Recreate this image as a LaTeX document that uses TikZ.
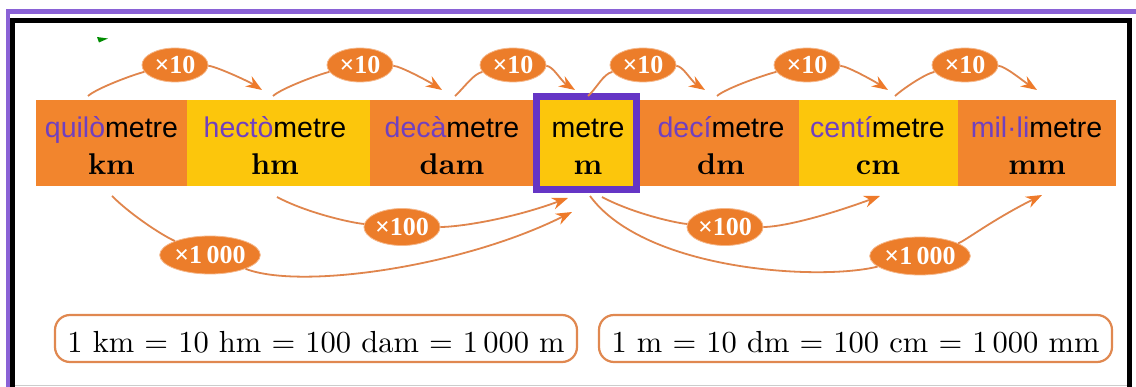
\documentclass[tikz,border=0pt]{standalone}
\usepackage{fontspec}
\newfontfamily\sansf{Liberation Sans}
\newfontfamily\lserif{Liberation Serif}
\newfontfamily\lmten{lmroman10-regular}[Extension=.otf, BoldFont=lmroman10-bold]
\usetikzlibrary{shapes.geometric,arrows.meta,calc}
\definecolor{cellO}{HTML}{F2852D}
\definecolor{cellY}{HTML}{FCC60C}
\definecolor{labO}{HTML}{EC7D2A}
\definecolor{arcC}{HTML}{E0854C}
\definecolor{tipC}{HTML}{EE7A2A}
\definecolor{purT}{HTML}{7040C0}
\definecolor{purF}{HTML}{8A62D6}
\definecolor{purM}{HTML}{6535C5}
\definecolor{boxC}{HTML}{E08850}
\newcommand{\pur}[1]{\textcolor{purT}{#1}}
\begin{document}
\begin{tikzpicture}[x=1pt,y=-1pt,
 cell/.style={rectangle, draw=none, inner sep=0, minimum height=86pt},
 word/.style={anchor=base, inner sep=0, font=\sansf\fontsize{28.5}{30}\selectfont},
 abbr/.style={anchor=base, inner sep=0, font=\lmten\bfseries\fontsize{30}{32}\selectfont},
 lab/.style={ellipse, fill=labO, draw=labO!55!white, line width=0.8pt, inner sep=0, text=white, font=\lserif\bfseries\fontsize{26}{28}\selectfont},
 lab10/.style={lab, minimum width=66pt, minimum height=34pt},
 lab100/.style={lab, minimum width=75pt, minimum height=37pt},
 lab1000/.style={lab, minimum width=90pt, minimum height=38pt},
 arc/.style={draw=arcC, line width=1.8pt},
 arcarrow/.style={arc, -{Stealth[length=16pt,width=12pt,color=tipC]}},
 sumbox/.style={rectangle, rounded corners=15pt, draw=boxC, line width=2.2pt, fill=white, minimum height=47pt, inner sep=0, text height=28pt, text depth=0pt, font=\lmten\fontsize{30.5}{32}\selectfont}
]
\useasboundingbox (0,0) rectangle (1136,387);
\fill[white] (0,0) rectangle (1136,387);
% frame
\fill[purF] (6,9) rectangle (1136,14);
\fill[purF] (6,9) rectangle (10,387);
\draw[black, line width=5pt] (12.5,387) -- (12.5,20.5) -- (1129,20.5) -- (1129,387);
\draw[black!20, line width=1.5pt] (15,385.5) -- (1126.5,385.5);
\fill[green!55!black] (97,37) -- (108,38.5) -- (99,42.5) -- cycle;
% cells
\node[cell, fill=cellO, minimum width=151pt] (c1) at (111.5,143) {};
\node[cell, fill=cellY, minimum width=183pt] (c2) at (278.5,143) {};
\node[cell, fill=cellO, minimum width=170pt] (c3) at (455,143) {};
\node[cell, fill=cellO, minimum width=166pt] (c5) at (716,143) {};
\node[cell, fill=cellY, minimum width=159pt] (c6) at (878.5,143) {};
\node[cell, fill=cellO, minimum width=158pt] (c7) at (1037,143) {};
\node[rectangle, fill=cellY, draw=purM, line width=7pt, minimum width=100pt, minimum height=93pt, inner sep=0] (c4) at (586.5,143) {};
% words
\node[word] (n1) at (111.5,138) {\pur{quilò}metre};
\node[word] (n2) at (275,138) {\pur{hectò}metre};
\node[word] (n3) at (452,138) {\pur{decà}metre};
\node[word] (n4) at (588,138) {metre};
\node[word] (n5) at (721,138) {\pur{decí}metre};
\node[word] (n6) at (877.5,138) {\pur{centí}metre};
\node[word] (n7) at (1036.5,138) {\pur{mil·li}metre};
\node[abbr] (a1) at (111.5,175) {km};
\node[abbr] (a2) at (275,175) {hm};
\node[abbr] (a3) at (452,175) {dam};
\node[abbr] (a4) at (588,175) {m};
\node[abbr] (a5) at (721,175) {dm};
\node[abbr] (a6) at (878,175) {cm};
\node[abbr] (a7) at (1037,175) {mm};
% top arcs
\foreach \i/\s/\l/\e in {1/88/175/262, 2/273/360/442, 3/455/513/575, 4/588/643/705, 5/717/807/888, 6/895/965/1037} {
 \coordinate (ts\i) at (\s,96);
 \coordinate (te\i) at (\e,90);
 \node[lab10] (tl\i) at (\l,65) {×10};
 \draw[arc] (ts\i) .. controls +(9,-8) and +(-40,9) .. (tl\i);
 \draw[arcarrow] (tl\i) .. controls +(40,1) and +(-14,-9) .. (te\i);
}
% bottom arcs
\coordinate (bsA) at (112,196); \coordinate (beA) at (572,212);
\node[lab1000] (blA) at (210,255) {×1\,000};
\draw[arc] (bsA) .. controls +(20,20) and +(-45,-18) .. (blA);
\draw[arcarrow] (blA) .. controls +(90,35) and +(-110,55) .. (beA);

\coordinate (bsB) at (277,197); \coordinate (beB) at (568,198);
\node[lab100] (blB) at (402,227) {×100};
\draw[arc] (bsB) .. controls +(30,16) and +(-50,-4) .. (blB);
\draw[arcarrow] (blB) .. controls +(55,0) and +(-60,22) .. (beB);

\coordinate (bsC) at (602,197); \coordinate (beC) at (880,196);
\node[lab100] (blC) at (725,227) {×100};
\draw[arc] (bsC) .. controls +(30,16) and +(-50,-4) .. (blC);
\draw[arcarrow] (blC) .. controls +(55,0) and +(-60,22) .. (beC);

\coordinate (bsD) at (590,196); \coordinate (beD) at (1042,195);
\node[lab1000] (blD) at (920,256) {×1\,000};
\draw[arc] (bsD) .. controls +(55,75) and +(-100,25) .. (blD);
\draw[arcarrow] (blD) .. controls +(45,-15) and +(-50,25) .. (beD);
% summary boxes
\node[sumbox, minimum width=522pt] (s1) at (316,338.5) {1 km = 10 hm = 100 dam = 1\,000 m};
\node[sumbox, minimum width=513pt] (s2) at (855.5,338.5) {1 m = 10 dm = 100 cm = 1\,000 mm};
\end{tikzpicture}
\end{document}
